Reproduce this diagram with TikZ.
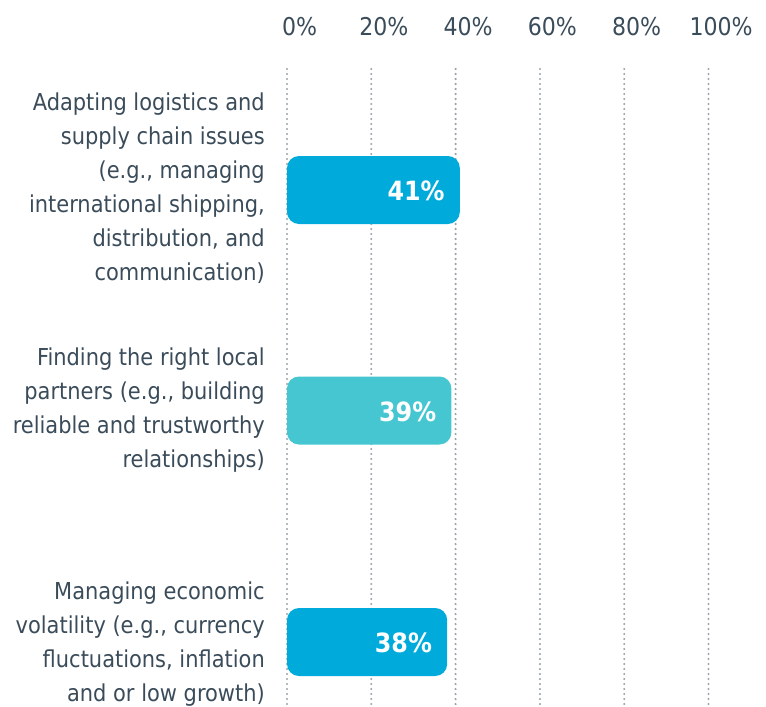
\documentclass[tikz,border=0pt]{standalone}
\usepackage{fontspec}
\setmainfont{DejaVu Sans Condensed}
\definecolor{barblue}{HTML}{00ABDC}
\definecolor{barteal}{HTML}{45C6D1}
\definecolor{labelgray}{HTML}{3A4B59}
\definecolor{gridgray}{HTML}{9AA2AB}
\tikzset{
  barfill/.style={rounded corners=12pt},
  pctlabel/.style={anchor=east, text=white, inner sep=0pt, font=\fontsize{26.5}{30}\selectfont\bfseries},
  itemlabel/.style={anchor=east, align=right, inner sep=0pt, text=labelgray, font=\fontsize{23.3}{34}\selectfont},
  ticklabel/.style={text=labelgray, inner sep=0pt, font=\fontsize{24.5}{28}\selectfont},
  gridline/.style={gridgray, line width=2.3pt, line cap=round, dash pattern=on 0pt off 5pt}
}
\begin{document}
\begin{tikzpicture}[x=1pt,y=-1pt]
            \newcommand{\zerox}{287}
            \newcommand{\pcunit}{4.215}
            \newcommand{\barhalf}{34}
            \useasboundingbox (0,0) rectangle (766,707);
            % axis
            \foreach \v in {0,20,40,60,80,100} {
              \draw[gridline] (\zerox+\v*\pcunit,69) -- (\zerox+\v*\pcunit,707);
              \node[ticklabel] (tick\v) at (\zerox+\v*\pcunit+12.5,27) {\v\%};
            }
            % bars
            \fill[barblue, barfill] (\zerox,190-\barhalf) rectangle (\zerox+41*\pcunit,190+\barhalf);
            \node[pctlabel] (pct1) at (\zerox+41*\pcunit-15,191) {41\%};
            \fill[barteal, barfill] (\zerox,410.5-\barhalf) rectangle (\zerox+39*\pcunit,410.5+\barhalf);
            \node[pctlabel] (pct2) at (\zerox+39*\pcunit-15,411.5) {39\%};
            \fill[barblue, barfill] (\zerox,642-\barhalf) rectangle (\zerox+38*\pcunit,642+\barhalf);
            \node[pctlabel] (pct3) at (\zerox+38*\pcunit-15,643) {38\%};
            % labels
            \node[itemlabel] (item1) at (265,188.5) {Adapting logistics and\\supply chain issues\\(e.g., managing\\international shipping,\\distribution, and\\communication)};
            \node[itemlabel] (item2) at (265,410) {Finding the right local\\partners (e.g., building\\reliable and trustworthy\\relationships)};
            \node[itemlabel] (item3) at (265,644.5) {Managing economic\\volatility (e.g., currency\\fluctuations, inflation\\and or low growth)};
\end{tikzpicture}
\end{document}
